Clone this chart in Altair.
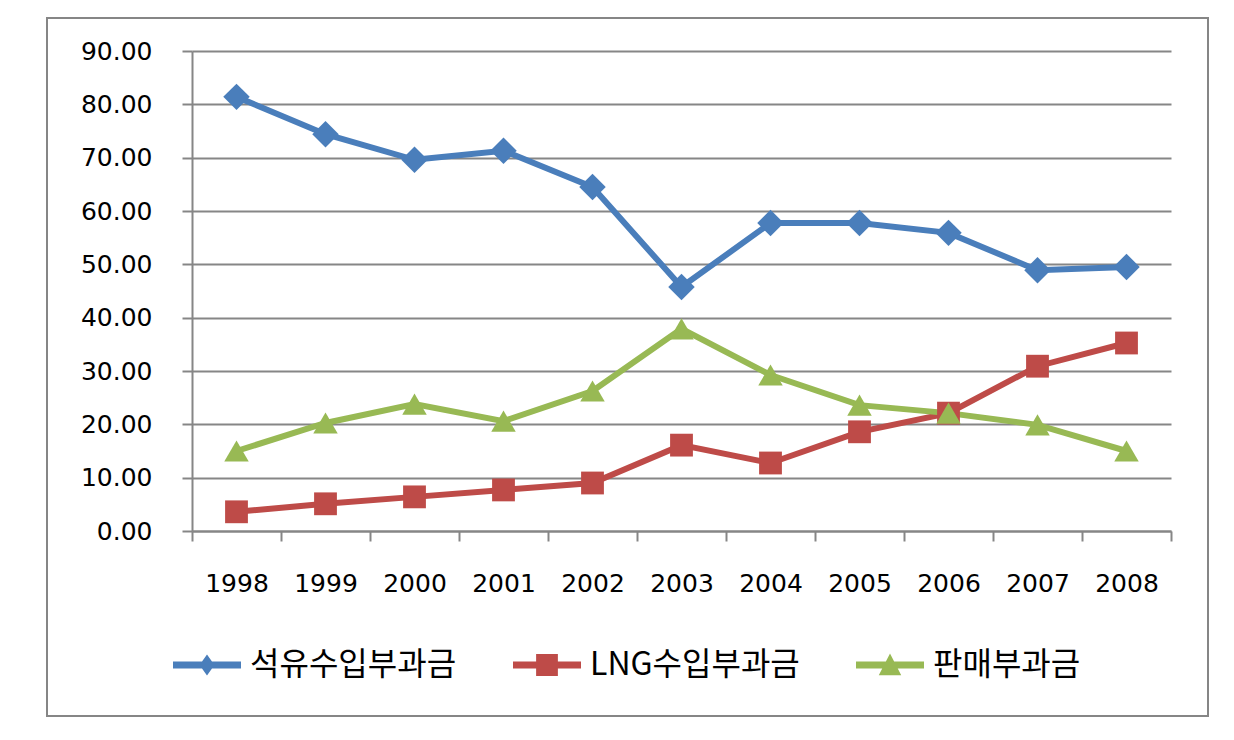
import altair as alt
import pandas as pd

years = ["1998", "1999", "2000", "2001", "2002", "2003", "2004", "2005", "2006", "2007", "2008"]
oil = [81.4, 74.4, 69.6, 71.3, 64.5, 45.75, 57.75, 57.75, 55.9, 48.9, 49.5]
lng = [3.6, 5.1, 6.4, 7.7, 9.0, 16.1, 12.75, 18.6, 22.1, 30.9, 35.25]
sales = [15.0, 20.25, 23.8, 20.6, 26.25, 37.9, 29.25, 23.6, 22.1, 19.9, 15.0]
series_names = ["석유수입부과금", "LNG수입부과금", "판매부과금"]
y_ticks = [0, 10, 20, 30, 40, 50, 60, 70, 80, 90]

colors = ["#4A7EBB", "#BE4B48", "#98B954"]
shapes = ["diamond", "square", "triangle-up"]
marker_sizes = [700, 520, 600]
legend_paths = [
    "M-1,-0.1L1,-0.1L1,0.1L-1,0.1Z M0,-0.31L0.22,0L0,0.31L-0.22,0Z",
    "M-1,-0.1L1,-0.1L1,0.1L-1,0.1Z M-0.32,-0.32L0.32,-0.32L0.32,0.32L-0.32,0.32Z",
    "M-1,-0.1L1,-0.1L1,0.1L-1,0.1Z M0,-0.34L0.33,0.3L-0.33,0.3Z",
]

rows = []
for name, vals in zip(series_names, [oil, lng, sales]):
    for y, v in zip(years, vals):
        rows.append({"year": y, "series": name, "value": v})
df = pd.DataFrame(rows)

GRAY = "#868686"

x_enc = alt.X(
    "year:O",
    sort=years,
    scale=alt.Scale(type="band", paddingInner=0, paddingOuter=0),
    axis=alt.Axis(
        title=None, labelAngle=0, tickBand="extent", grid=False,
        domainColor=GRAY, domainWidth=2, tickColor=GRAY, tickWidth=2, tickSize=10,
        labelFont="DejaVu Sans", labelFontSize=25, labelColor="#000", labelPadding=30,
    ),
)
y_enc = alt.Y(
    "value:Q",
    scale=alt.Scale(domain=[0, 90], nice=False),
    axis=alt.Axis(
        title=None, values=y_ticks, format=".2f", grid=True,
        gridColor=GRAY, gridWidth=2, domainColor=GRAY, domainWidth=2,
        tickColor=GRAY, tickWidth=2, tickSize=10,
        labelFont="DejaVu Sans", labelFontSize=25, labelColor="#000", labelPadding=30,
    ),
)

base = alt.Chart(df)

line_layers = []
point_layers = []
for i, (name, col, shp, sz) in enumerate(zip(series_names, colors, shapes, marker_sizes)):
    sub = base.transform_filter(alt.datum.series == name)
    if i == 0:
        enc = dict(x=x_enc, y=y_enc)
    else:
        enc = dict(x=alt.X("year:O", sort=years), y="value:Q")
    line_layers.append(sub.mark_line(strokeWidth=6, color=col).encode(**enc))
    point_layers.append(
        sub.mark_point(filled=True, opacity=1, shape=shp, size=sz, color=col)
        .encode(x=alt.X("year:O", sort=years), y="value:Q")
    )

legend = alt.Legend(
    orient="none", legendX=-19, legendY=580, direction="horizontal", title=None,
    labelFont="Noto Sans CJK KR", labelFontSize=32, labelColor="#000", labelLimit=600,
    labelOffset=9, columnPadding=56, symbolSize=4624, symbolStrokeWidth=0,
    symbolOpacity=1, padding=0,
)

color_scale = alt.Scale(domain=series_names, range=colors)
legend_layer = base.mark_point(filled=True, opacity=0, size=10).encode(
    x=alt.X("year:O", sort=years), y="value:Q",
    color=alt.Color("series:N", scale=color_scale, legend=legend),
    shape=alt.Shape("series:N", scale=alt.Scale(domain=series_names, range=legend_paths), legend=legend),
)

frame = alt.Chart(pd.DataFrame({"k": [0]})).mark_rect(
    fillOpacity=0, stroke=GRAY, strokeWidth=2
).encode(x=alt.value(-145), x2=alt.value(1016), y=alt.value(-33), y2=alt.value(665))

chart = alt.layer(frame, *line_layers, *point_layers, legend_layer).properties(
    width=979, height=480,
    autosize=alt.AutoSizeParams(type="none"),
    padding={"left": 192, "top": 51, "right": 63, "bottom": 209},
    background="white",
).configure_view(stroke=None)

chart.save("out.html", embed_options={"renderer": "svg", "actions": False})
